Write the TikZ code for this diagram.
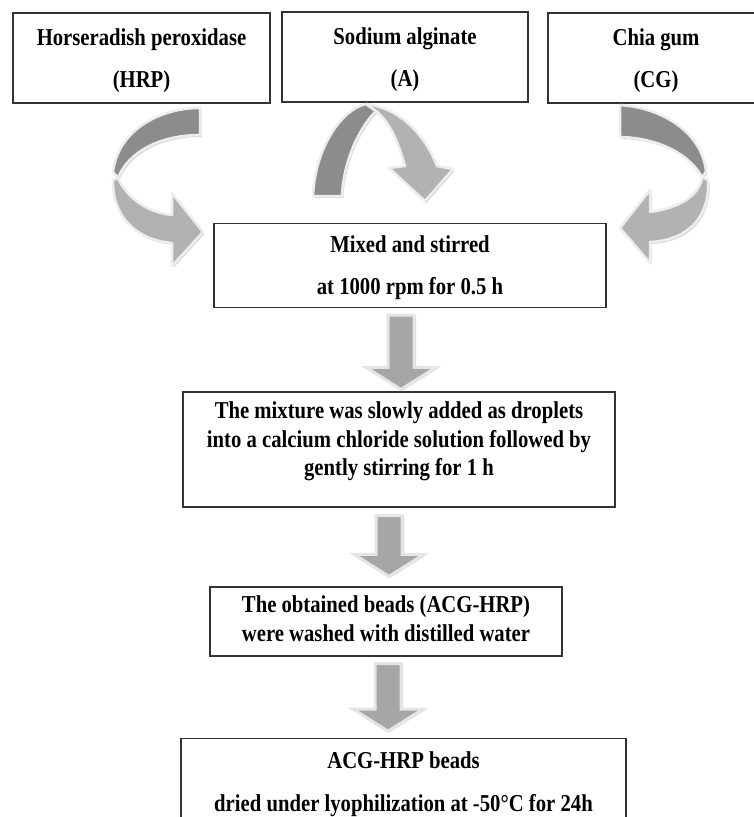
\documentclass[tikz,border=0pt]{standalone}
\usepackage{fontspec}
\usepackage{graphicx}
\setmainfont{Liberation Serif}
\usetikzlibrary{calc,shadows}

\tikzset{
  box/.style={draw=black!80, line width=1.2pt, inner sep=0pt, font=\bfseries},
  ribbon/.style={draw=black!7, line width=2.5pt, line join=round,
    drop shadow={shadow xshift=1.5pt, shadow yshift=-2pt, opacity=.3}},
  ribdark/.style={ribbon, fill=black!45},
  riblight/.style={ribbon, fill=black!30},
  blockarrow/.style={draw=black!10, line width=3pt, fill=black!35,
    drop shadow={shadow xshift=2pt, shadow yshift=-1pt, opacity=.3}}
}

% text of a box, a little taller than wide: #1 line skip, #2 lines
\newcommand{\boxtext}[2]{\scalebox{1}[1.17]{\fontsize{20.7}{#1}\selectfont
  \begin{tabular}{@{}c@{}}#2\end{tabular}}}

% block arrow pointing down: #1 tail, #2 tip
\newcommand{\blockdown}[2]{%
  \draw[blockarrow] let \p1=(#1), \p2=(#2) in
    (\x1-13pt,\y1) -- (\x1+13pt,\y1) -- (\x1+13pt,\y2+22pt) -- (\x1+35pt,\y2+22pt)
    -- (\x1,\y2) -- (\x1-35pt,\y2+22pt) -- (\x1-13pt,\y2+22pt) -- cycle;}

\begin{document}
\begin{tikzpicture}[x=1pt,y=-1pt]
    \useasboundingbox (0,0) rectangle (753,817);
    \node[box, minimum width=257pt, minimum height=90pt] (hrp) at (141.5,58) {\boxtext{36}{Horseradish peroxidase\\(HRP)}};
    \node[box, minimum width=246pt, minimum height=90pt] (alg) at (405,57) {\boxtext{36}{Sodium alginate\\(A)}};
    \node[box, minimum width=216pt, minimum height=90pt] (cg) at (656,58) {\boxtext{36}{Chia gum\\(CG)}};
    \node[box, minimum width=392pt, minimum height=81pt] (mix) at (410,265.5) {\boxtext{36}{Mixed and stirred\\at 1000 rpm for 0.5 h}};
    \node[box, minimum width=432pt, minimum height=115pt] (drop) at (399,449.5) {};
    \node[box, draw=none] (droptext) at ($(drop.center)+(0,-8)$) {\boxtext{24.4}{The mixture was slowly added as droplets\\into a calcium chloride solution followed by\\gently stirring for 1 h}};
    \node[box, minimum width=352pt, minimum height=69pt] (wash) at (386,621.5) {\boxtext{24.6}{The obtained beads (ACG-HRP)\\were washed with distilled water}};
    \node[box, minimum width=445pt, minimum height=83pt] (dry) at (403.5,781.5) {\boxtext{36.5}{ACG-HRP beads\\dried under lyophilization at -50°C for 24h}};
    % curved arrows into the mixing step
    \draw[ribdark] (200,108) .. controls (160,108) and (118,130) .. (113,172) -- (118,178) .. controls (128,152) and (160,135) .. (200,135) -- cycle;
    \draw[riblight] (118,178) .. controls (128,200) and (150,213) .. (172,215) -- (172,193) -- (203,232) -- (172,266) -- (172,243) .. controls (135,240) and (112,215) .. (113,180) -- cycle;
    \draw[ribdark] (313,196) .. controls (315,150) and (340,110) .. (366,104) -- (376,111) .. controls (357,130) and (343,165) .. (342,196) -- cycle;
    \draw[riblight] (366,104) .. controls (400,108) and (425,135) .. (437,166) -- (453,169) -- (425,201) -- (389,168) -- (405,166) .. controls (398,140) and (388,120) .. (376,111) -- cycle;
    \draw[ribdark] (620,105) .. controls (665,108) and (703,135) .. (706,172) -- (702,177) .. controls (690,155) and (660,138) .. (620,137) -- cycle;
    \draw[riblight] (702,177) .. controls (700,195) and (680,208) .. (650,212) -- (650,190) -- (620,228) -- (650,263) -- (650,242) .. controls (690,240) and (710,215) .. (708,180) -- cycle;
    % steps
    \blockdown{$(mix.south)+(-9,7)$}{$(drop.north)+(0,-2)$}
    \blockdown{$(drop.south)+(-10,8)$}{$(wash.north)+(0,-10)$}
    \blockdown{$(wash.south)+(2,7)$}{$(dry.north)+(0,-7)$}
\end{tikzpicture}
\end{document}
